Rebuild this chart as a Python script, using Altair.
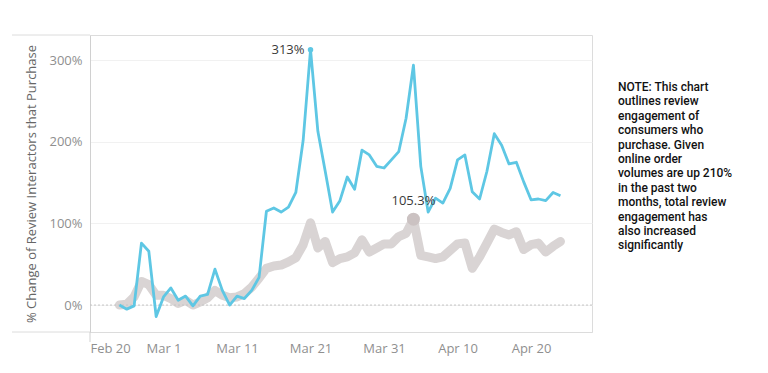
import altair as alt
import pandas as pd

# ---- data ----
first_day = "2020-02-24"
n_days = 61
blue = [0, -5, -1, 76, 66, -14,
        10, 21, 6, 11, -1, 11, 13, 44, 18, 0, 11, 8, 18, 34, 115, 119, 114, 120, 138, 202,
        313, 213, 164, 114, 128, 157, 142, 190, 184, 170, 168,
        178, 188, 229, 294, 170, 114, 131, 125, 143, 178, 184, 139, 130, 164, 210, 196,
        173, 175, 151, 129, 130, 128, 138, 134]
gray = [0, 1, 10, 29, 25, 12,
        12, 8, 2, 6, 0, 4, 9, 18, 12, 9, 10, 14, 22, 33, 45, 48, 49, 53, 58, 74,
        101, 70, 78, 52, 57, 59, 64, 80, 65, 70, 75,
        75, 84, 88, 105.3, 61, 59, 57, 59, 67, 75, 76, 45, 59, 76, 93, 89,
        86, 90, 68, 74, 76, 65, 72, 78]
x_tick_dates = ["2020-02-20", "2020-03-01", "2020-03-11", "2020-03-21",
                "2020-03-31", "2020-04-10", "2020-04-20"]
y_ticks = [0, 100, 200, 300]
y_title = "% Change of Review Interactors that Purchase"
note = ("NOTE: This chart\noutlines review\nengagement of\nconsumers who\n"
        "purchase. Given\nonline order\nvolumes are up 210%\nin the past two\n"
        "months, total review\nengagement has\nalso increased\nsignificantly")


def ms(s):
    return int(pd.Timestamp(s, tz="UTC").value // 10**6)


dates = pd.date_range(first_day, periods=n_days, freq="D").strftime("%Y-%m-%d").tolist()
df = pd.DataFrame({"t": [ms(d) for d in dates], "blue": blue, "gray": gray})

bi = int(pd.Series(blue).idxmax())
gi = int(pd.Series(gray).idxmax())
peak_blue = pd.DataFrame({"t": [ms(dates[bi])], "v": [blue[bi]], "lab": [f"{blue[bi]:g}%"]})
peak_gray = pd.DataFrame({"t": [ms(dates[gi])], "v": [gray[gi]], "lab": [f"{gray[gi]:g}%"]})

W, H = 502, 297
FONT = "Open Sans"

xscale = alt.Scale(type="utc", domain=[ms("2020-02-20"), ms("2020-04-28") + 7 * 3600 * 1000])
yscale = alt.Scale(domain=[-33, 331], nice=False, zero=False)

xaxis = alt.Axis(values=[ms(v) for v in x_tick_dates],
                 labelExpr="utcFormat(datum.value, '%b %-d')",
                 grid=False, ticks=False, labelPadding=10, labelFontSize=13,
                 labelColor="#8f8f8f", labelFont=FONT, domainColor="#dcdcdc", title=None)
yaxis = alt.Axis(values=y_ticks, labelExpr="datum.value + '%'", grid=True,
                 gridColor="#f1f1f1", ticks=False, labelPadding=8, labelFontSize=13,
                 labelColor="#8f8f8f", labelFont=FONT, domainColor="#d0d0d0",
                 title=y_title, titleFont=FONT, titleFontSize=13, titleFontWeight="normal",
                 titleColor="#666666", titleX=-59, titleY=H / 2, titleAngle=-90,
                 titleAlign="center", titleBaseline="middle")


def X(f):
    return alt.X(f, type="temporal", scale=xscale, axis=xaxis)


def Y(f):
    return alt.Y(f, type="quantitative", scale=yscale, axis=yaxis)


base = alt.Chart(df)

gray_line = base.mark_line(color="#d9d4d4", strokeWidth=9, strokeCap="round",
                           strokeJoin="round").encode(x=X("t"), y=Y("gray"))

zero_rule = alt.Chart(pd.DataFrame({"z": [0]})).mark_rule(
    color="#c4c4c4", strokeDash=[2, 2], strokeWidth=1).encode(y=Y("z"))

blue_line = base.mark_line(color="#5ec7e4", strokeWidth=2.8,
                           strokeJoin="round").encode(x=X("t"), y=Y("blue"))

gray_pt = alt.Chart(peak_gray).mark_circle(color="#cbc2c2", size=170, opacity=1).encode(
    x=X("t"), y=Y("v"))
blue_pt = alt.Chart(peak_blue).mark_circle(color="#5ec7e4", size=30, opacity=1).encode(
    x=X("t"), y=Y("v"))

blue_lab = alt.Chart(peak_blue).mark_text(align="right", baseline="middle", dx=-6,
                                          font=FONT, fontSize=13, color="#3a3a3a").encode(
    x=X("t"), y=Y("v"), text="lab:N")
gray_lab = alt.Chart(peak_gray).mark_text(align="center", baseline="bottom", dy=-11,
                                          font=FONT, fontSize=13, color="#3a3a3a").encode(
    x=X("t"), y=Y("v"), text="lab:N")

one = pd.DataFrame({"a": [0]})
top_ext = alt.Chart(one).mark_rule(color="#dcdcdc").encode(
    x=alt.value(-78), x2=alt.value(0), y=alt.value(0))
bot_ext = alt.Chart(one).mark_rule(color="#dcdcdc").encode(
    x=alt.value(-78), x2=alt.value(0), y=alt.value(H))
left_ext = alt.Chart(one).mark_rule(color="#d0d0d0").encode(
    x=alt.value(0), y=alt.value(H), y2=alt.value(H + 10))

note_txt = alt.Chart(one).mark_text(align="left", baseline="top", font="Roboto", fontSize=12,
                                    fontWeight=500, lineBreak="\n", lineHeight=14.4,
                                    color="#111111").encode(
    x=alt.value(528), y=alt.value(47), text=alt.value(note))

chart = alt.layer(gray_line, zero_rule, blue_line, gray_pt, blue_pt, blue_lab, gray_lab,
                  top_ext, bot_ext, left_ext, note_txt).properties(
    width=W, height=H,
    padding={"left": 82, "top": 27, "right": 168, "bottom": 33},
    autosize=alt.AutoSizeParams(type="none"),
    background="white",
).configure_view(stroke="#dcdcdc", strokeWidth=1)

chart.save("out.html", embed_options={"renderer": "svg", "actions": False})
